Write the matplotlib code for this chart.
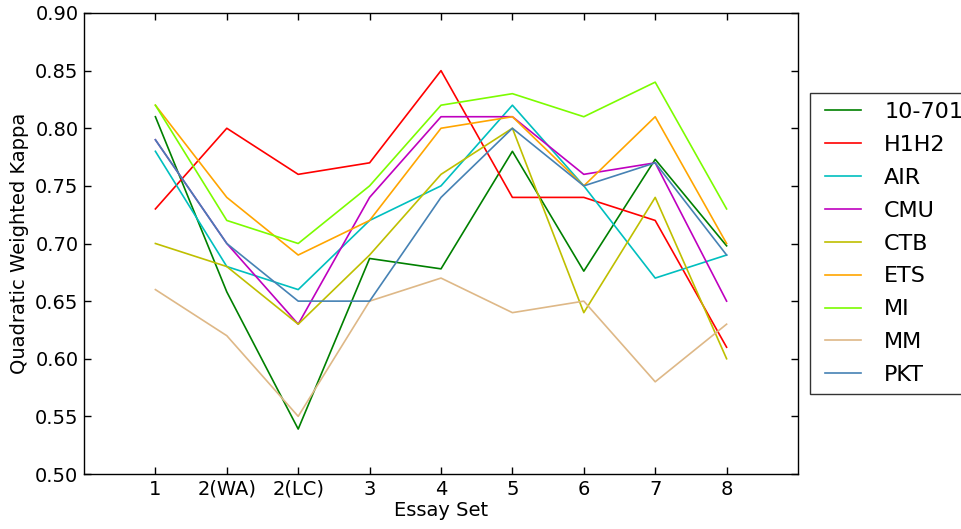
import matplotlib
matplotlib.use("Agg")
import matplotlib.pyplot as plt
from matplotlib.legend_handler import HandlerLine2D
from matplotlib.lines import Line2D

x_labels = ["1", "2(WA)", "2(LC)", "3", "4", "5", "6", "7", "8"]
series_names = ["10-701", "H1H2", "AIR", "CMU", "CTB", "ETS", "MI", "MM", "PKT"]
v_10701 = [0.81, 0.658, 0.539, 0.687, 0.678, 0.780, 0.676, 0.773, 0.698]
v_h1h2 = [0.73, 0.80, 0.76, 0.77, 0.85, 0.74, 0.74, 0.72, 0.61]
v_air = [0.78, 0.68, 0.66, 0.72, 0.75, 0.82, 0.75, 0.67, 0.69]
v_cmu = [0.79, 0.70, 0.63, 0.74, 0.81, 0.81, 0.76, 0.77, 0.65]
v_ctb = [0.70, 0.68, 0.63, 0.69, 0.76, 0.80, 0.64, 0.74, 0.60]
v_ets = [0.82, 0.74, 0.69, 0.72, 0.80, 0.81, 0.75, 0.81, 0.70]
v_mi = [0.82, 0.72, 0.70, 0.75, 0.82, 0.83, 0.81, 0.84, 0.73]
v_mm = [0.66, 0.62, 0.55, 0.65, 0.67, 0.64, 0.65, 0.58, 0.63]
v_pkt = [0.79, 0.70, 0.65, 0.65, 0.74, 0.80, 0.75, 0.77, 0.69]
series_values = [v_10701, v_h1h2, v_air, v_cmu, v_ctb, v_ets, v_mi, v_mm, v_pkt]
colors = ["#008000", "#ff0000", "#00bfbf", "#bf00bf", "#bfbf00", "#ffa500",
          "#7cfc00", "#deb887", "#4682b4"]
y_ticks = [0.50, 0.55, 0.60, 0.65, 0.70, 0.75, 0.80, 0.85, 0.90]

fig = plt.figure(figsize=(9.61, 5.29), dpi=100)
ax = fig.add_axes([84/961, 55/529, 714/961, 461/529])
xs = list(range(1, len(x_labels) + 1))
for name, vals, c in zip(series_names, series_values, colors):
    ax.plot(xs, vals, color=c, linewidth=1.2, label=name)

ax.set_xlim(0, 10)
ax.set_ylim(0.5, 0.9)
ax.set_xticks(xs)
ax.set_xticklabels(x_labels)
ax.set_yticks(y_ticks)
ax.set_yticklabels([f"{v:.2f}" for v in y_ticks])
ax.tick_params(direction="in", top=True, right=True, labelsize=14, length=5, width=1, pad=4)
for s in ax.spines.values():
    s.set_linewidth(1.0)
ax.set_xlabel("Essay Set", fontsize=14, labelpad=2)
ax.set_ylabel("Quadratic Weighted Kappa", fontsize=14, labelpad=4)

leg = ax.legend(loc="center left", bbox_to_anchor=(1.017, 0.5), borderaxespad=0,
                fontsize=16, fancybox=False, frameon=True, handlelength=1.865,
                handletextpad=1.05, borderpad=0.42, labelspacing=0.58,
                handler_map={Line2D: HandlerLine2D(xpad=0.27)})
leg.get_frame().set_edgecolor("black")
leg.get_frame().set_linewidth(1.0)

fig.savefig("out.png", dpi=100)
